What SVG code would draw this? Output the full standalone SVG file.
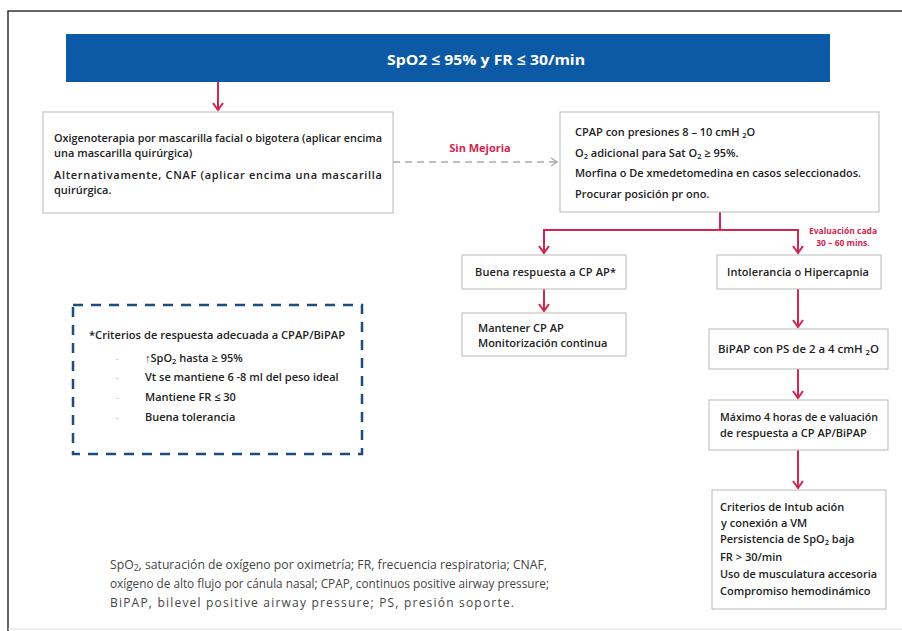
<svg xmlns="http://www.w3.org/2000/svg" width="902" height="631" viewBox="0 0 902 631">
<style>
.box{fill:#fff;stroke:#b9b9b9;stroke-width:1}
.t{font-family:"Open Sans","Noto Sans",sans-serif;font-weight:600;font-size:11px;fill:#222}
.r{fill:#D0264F;font-weight:700}
.ev{font-size:8.5px}
.fn{font-family:"Open Sans","Noto Sans",sans-serif;font-weight:500;font-size:12px;fill:#444}
.con{stroke:#D0264F;stroke-width:2;fill:none}
.sub{font-size:7.5px}
.bl{font-family:"Open Sans",sans-serif;font-size:8px;fill:#999}
</style>
<defs>
<marker id="ah" markerUnits="userSpaceOnUse" markerWidth="12" markerHeight="12" refX="8" refY="6" orient="auto">
<path d="M1,1 L8,6 L1,11" fill="none" stroke="#D0264F" stroke-width="2"/>
</marker>
<marker id="ag" markerUnits="userSpaceOnUse" markerWidth="12" markerHeight="12" refX="8" refY="6" orient="auto">
<path d="M2,2 L8,6 L2,10" fill="none" stroke="#aaa" stroke-width="1.5"/>
</marker>
</defs>
<rect width="902" height="631" fill="#fff"/>
<path d="M8,631 V11 H902" fill="none" stroke="#333" stroke-width="1.5"/>
<path d="M8,629 H902" fill="none" stroke="#ddd" stroke-width="1"/>

<g id="banner">
<rect x="66" y="34" width="764" height="48" fill="#0C59A6"/>
<text x="387" y="65" font-family="'Open Sans','Noto Sans',sans-serif" font-weight="700" font-size="15" fill="#fff" textLength="198" lengthAdjust="spacingAndGlyphs">SpO2 ≤ 95% y FR ≤ 30/min</text>
</g>

<g id="connectors">
<path class="con" d="M218,82 V110" marker-end="url(#ah)"/>
<path d="M393,162 H557" fill="none" stroke="#aaa" stroke-width="1.5" stroke-dasharray="7,5" marker-end="url(#ag)"/>
<path class="con" d="M720,212 V230 M543,230 H798"/>
<path class="con" d="M544,229 V253" marker-end="url(#ah)"/>
<path class="con" d="M798,229 V253" marker-end="url(#ah)"/>
<path class="con" d="M544,289 V311" marker-end="url(#ah)"/>
<path class="con" d="M798,289 V327" marker-end="url(#ah)"/>
<path class="con" d="M798,369 V398" marker-end="url(#ah)"/>
<path class="con" d="M798,450 V488" marker-end="url(#ah)"/>
<text class="t r" x="480" y="152" text-anchor="middle">Sin Mejoria</text>
<text class="t r ev" x="843" y="234" text-anchor="middle">Evaluación cada</text>
<text class="t r ev" x="843" y="246" text-anchor="middle">30 – 60 mins.</text>
</g>

<g id="oxigenoterapia">
<rect class="box" x="43" y="112" width="350" height="101"/>
<text class="t" x="54" y="142" textLength="328" lengthAdjust="spacingAndGlyphs">Oxigenoterapia por mascarilla facial o bigotera (aplicar encima</text>
<text class="t" x="54" y="157">una mascarilla quirúrgica)</text>
<text class="t" x="54" y="179" textLength="328" lengthAdjust="spacing">Alternativamente, CNAF (aplicar encima una mascarilla</text>
<text class="t" x="54" y="194">quirúrgica.</text>
</g>

<g id="cpap">
<rect class="box" x="560" y="112" width="319" height="100"/>
<text class="t" x="575" y="136">CPAP con presiones 8 – 10 cmH <tspan class="sub" dy="2">2</tspan><tspan dy="-2">O</tspan></text>
<text class="t" x="575" y="157">O<tspan class="sub" dy="2">2</tspan><tspan dy="-2"> adicional para Sat O</tspan><tspan class="sub" dy="2">2</tspan><tspan dy="-2"> ≥ 95%.</tspan></text>
<text class="t" x="575" y="177" textLength="286" lengthAdjust="spacingAndGlyphs">Morfina o De xmedetomedina en casos seleccionados.</text>
<text class="t" x="575" y="198">Procurar posición pr ono.</text>
</g>

<g id="buena">
<rect class="box" x="462" y="255" width="164" height="34"/>
<text class="t" x="475" y="276" textLength="141" lengthAdjust="spacing">Buena respuesta a CP AP*</text>
</g>

<g id="intolerancia">
<rect class="box" x="717" y="255" width="164" height="34"/>
<text class="t" x="727" y="276" textLength="142" lengthAdjust="spacing">Intolerancia o Hipercapnia</text>
</g>

<g id="mantener">
<rect class="box" x="462" y="313" width="164" height="43"/>
<text class="t" x="478" y="332">Mantener CP AP</text>
<text class="t" x="478" y="347">Monitorización continua</text>
</g>

<g id="bipap">
<rect class="box" x="709" y="329" width="179" height="40"/>
<text class="t" x="718" y="353" textLength="161" lengthAdjust="spacingAndGlyphs">BiPAP con PS de 2 a 4 cmH <tspan class="sub" dy="2">2</tspan><tspan dy="-2">O</tspan></text>
</g>

<g id="maximo">
<rect class="box" x="709" y="400" width="179" height="50"/>
<text class="t" x="720" y="421" textLength="158" lengthAdjust="spacingAndGlyphs">Máximo 4 horas de e valuación</text>
<text class="t" x="720" y="437">de respuesta a CP AP/BiPAP</text>
</g>

<g id="intubacion">
<rect class="box" x="712" y="490" width="174" height="119"/>
<text class="t" x="720" y="511">Criterios de Intub ación</text>
<text class="t" x="721" y="527">y conexión a VM</text>
<text class="t" x="720" y="543">Persistencia de SpO<tspan class="sub" dy="2">2</tspan><tspan dy="-2"> baja</tspan></text>
<text class="t" x="720" y="561">FR &gt; 30/min</text>
<text class="t" x="720" y="578" textLength="157" lengthAdjust="spacingAndGlyphs">Uso de musculatura accesoria</text>
<text class="t" x="720" y="595">Compromiso hemodinámico</text>
</g>

<g id="criterios-respuesta">
<rect x="73" y="305" width="289" height="149" fill="none" stroke="#1E4D7B" stroke-width="2.5" stroke-dasharray="10,8"/>
<text class="t" x="89" y="339" textLength="256" lengthAdjust="spacingAndGlyphs">*Criterios de respuesta adecuada a CPAP/BiPAP</text>
<text class="bl" x="116" y="361">-</text>
<text class="bl" x="116" y="380">-</text>
<text class="bl" x="116" y="400">-</text>
<text class="bl" x="116" y="420">-</text>
<text class="t" x="145" y="362">↑SpO<tspan class="sub" dy="2">2</tspan><tspan dy="-2"> hasta ≥ 95%</tspan></text>
<text class="t" x="145" y="381">Vt se mantiene 6 -8 ml del peso ideal</text>
<text class="t" x="145" y="401">Mantiene FR ≤ 30</text>
<text class="t" x="145" y="421">Buena tolerancia</text>
</g>

<g id="footnote">
<text class="fn" x="110" y="569" textLength="437" lengthAdjust="spacingAndGlyphs">SpO<tspan font-size="8.5" dy="2">2</tspan><tspan dy="-2">, saturación de oxígeno por oximetría; FR, frecuencia respiratoria; CNAF,</tspan></text>
<text class="fn" x="110" y="588" textLength="439" lengthAdjust="spacingAndGlyphs">oxígeno de alto flujo por cánula nasal; CPAP, continuos positive airway pressure;</text>
<text class="fn" x="110" y="607" textLength="404" lengthAdjust="spacing">BiPAP, bilevel positive airway pressure; PS, presión soporte.</text>
</g>
</svg>
